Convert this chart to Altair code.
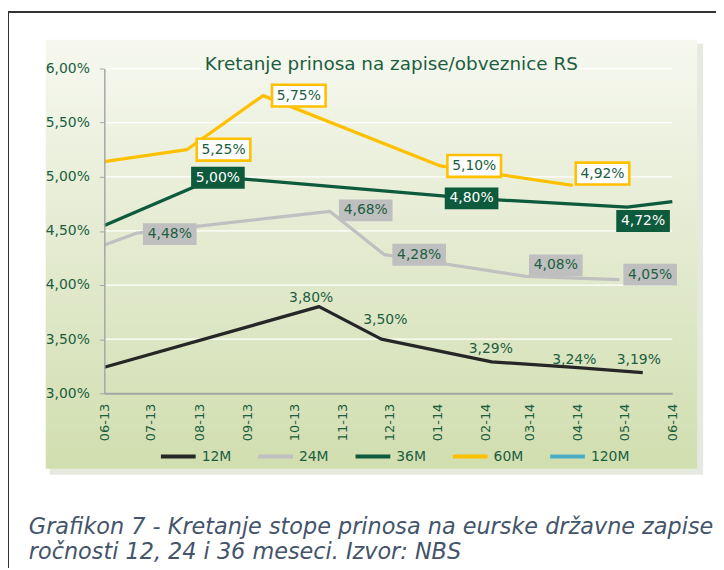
import altair as alt
import pandas as pd

# ---------------- data ----------------
SERIES = ["12M", "24M", "36M", "60M", "120M"]
COLORS = ["#262626", "#c0c0c0", "#0d5b3c", "#ffc000", "#4bacc6"]

DATES_12M = ["2013-06-01", "2013-10-17", "2013-11-26", "2014-02-05", "2014-03-30", "2014-05-13"]
VALUES_12M = [3.24, 3.80, 3.50, 3.29, 3.24, 3.19]

DATES_24M = ["2013-06-01", "2013-06-22", "2013-10-24", "2013-11-28", "2014-02-27", "2014-04-28"]
VALUES_24M = [4.37, 4.48, 4.68, 4.28, 4.08, 4.05]

DATES_36M = ["2013-06-01", "2013-08-13", "2014-01-23", "2014-05-03", "2014-06-01"]
VALUES_36M = [4.55, 5.00, 4.80, 4.72, 4.77]

DATES_60M = ["2013-06-01", "2013-07-24", "2013-09-11", "2014-01-03", "2014-03-29"]
VALUES_60M = [5.14, 5.25, 5.75, 5.10, 4.92]

MONTH_TICKS = [(2013, m) for m in range(6, 13)] + [(2014, m) for m in range(1, 7)]
Y_TICKS = [3.0, 3.5, 4.0, 4.5, 5.0, 5.5, 6.0]

TITLE = "Kretanje prinosa na zapise/obveznice RS"
CAPTION_1 = "Grafikon 7 - Kretanje stope prinosa na eurske državne zapise"
CAPTION_2 = "ročnosti 12, 24 i 36 meseci. Izvor: NBS"

# ------------- label layout (pixel offsets of the label from its point) -------------
OFFS_12M = [None, (-8, -9), (4, -19), (-1, -13), (0, -7), (-4, -13)]
OFFS_24M = [None, (33, 1), (36, -1), (35, 0), (30, -11), (31, -5)]
OFFS_36M = [None, (0, 1), (0, 0), (16, 14), None]
OFFS_60M = [None, (37, 0), (36, 0), (34, 0), (30, -12)]

# ---------------- styles ----------------
FONT = "DejaVu Sans"
GREEN = "#1b5e40"
W, H = 572, 327
BOX_W, BOX_H = 54, 22
BOX_PATH = "M-1,-{h}L1,-{h}L1,{h}L-1,{h}Z".format(h=round(BOX_H / BOX_W, 4))

X_ENC = alt.X(
    "date:T",
    scale=alt.Scale(
        type="utc",
        domain=[alt.DateTime(year=2013, month=6, date=1, utc=True),
                alt.DateTime(year=2014, month=6, date=1, utc=True)],
    ),
    axis=alt.Axis(
        values=[alt.DateTime(year=y, month=m, date=1, utc=True) for y, m in MONTH_TICKS],
        labelExpr="utcFormat(datum.value, '%m-%y')", labelAngle=270, title=None,
        tickSize=0, labelPadding=10, domainWidth=2, domainColor="#a6a6a6",
        grid=False, zindex=1, labelFlush=False, labelOverlap=False,
        labelFont=FONT, labelFontSize=13, labelColor=GREEN,
    ),
)
Y_AXIS = alt.Axis(
    values=Y_TICKS, labelExpr="replace(format(datum.value, '.2f'), '.', ',') + '%'",
    title=None, tickSize=5, tickColor="#a6a6a6", labelPadding=10, domainWidth=1.5,
    domainColor="#a6a6a6", grid=False, zindex=1,
    labelFont=FONT, labelFontSize=14, labelColor=GREEN,
)
Y_SCALE = alt.Scale(domain=[3.0, 6.0], nice=False, zero=False)
Y_ENC = alt.Y("value:Q", scale=Y_SCALE, axis=Y_AXIS)

dummy = alt.Data(values=[{}])

# background panel with shadow
shadow = alt.Chart(dummy).mark_rect(fill="#e6e9df").encode(
    x=alt.value(-55), x2=alt.value(603), y=alt.value(-25), y2=alt.value(409))
panel = alt.Chart(dummy).mark_rect(
    fill=alt.Gradient(
        gradient="linear",
        stops=[alt.GradientStop(color="#f6f8ef", offset=0),
               alt.GradientStop(color="#e3eacf", offset=0.5),
               alt.GradientStop(color="#d1deaf", offset=1)],
        x1=0, x2=0, y1=0, y2=1,
    )
).encode(x=alt.value(-59), x2=alt.value(597), y=alt.value(-29), y2=alt.value(403))

grid = alt.Chart(pd.DataFrame({"value": Y_TICKS[1:]})).mark_rule(
    color="white", strokeWidth=1.3
).encode(y=Y_ENC, x=alt.value(0), x2=alt.value(W))

# lines
rows = []
for name, ds, vs in [("12M", DATES_12M, VALUES_12M), ("24M", DATES_24M, VALUES_24M),
                     ("36M", DATES_36M, VALUES_36M), ("60M", DATES_60M, VALUES_60M)]:
    for d, v in zip(ds, vs):
        rows.append({"series": name, "date": d, "value": v})
line_df = pd.DataFrame(rows)

lines = alt.Chart(line_df).mark_line(strokeWidth=3.3, strokeJoin="round").encode(
    x=X_ENC, y=Y_ENC,
    color=alt.Color(
        "series:N",
        scale=alt.Scale(domain=SERIES, range=COLORS),
        legend=alt.Legend(
            orient="none", legendX=55, legendY=371, direction="horizontal", title=None,
            symbolType="stroke", symbolSize=1225, symbolStrokeWidth=4,
            labelFont=FONT, labelFontSize=14, labelColor=GREEN, labelOffset=4,
            columnPadding=19, padding=0,
        ),
    ),
    detail="series:N",
)

BOXES = {
    "12M": None,
    "24M": dict(fill="#bfbfbf", text=GREEN),
    "36M": dict(fill="#0d5a3c", text="white"),
    "60M": dict(fill="white", stroke="#ffc000", strokeWidth=2.6, text=GREEN),
}


def label_layers(name, dates, values, offsets):
    out = []
    box = BOXES[name]
    for d, v, off in zip(dates, values, offsets):
        if off is None:
            continue
        dx, dy = off
        base = alt.Chart(pd.DataFrame({"date": [d], "value": [v]})).transform_calculate(
            label="replace(format(datum.value, '.2f'), '.', ',') + '%'"
        )
        if box:
            props = dict(fill=box["fill"])
            if "stroke" in box:
                props.update(stroke=box["stroke"], strokeWidth=box["strokeWidth"])
            else:
                props.update(strokeWidth=0)
            out.append(base.mark_point(shape=BOX_PATH, size=BOX_W ** 2, filled=True, opacity=1,
                                       xOffset=dx, yOffset=dy, **props).encode(x=X_ENC, y=Y_ENC))
        color = box["text"] if box else GREEN
        out.append(base.mark_text(dx=dx, dy=dy, font=FONT, fontSize=14, color=color,
                                  align="center", baseline="middle").encode(
            x=X_ENC, y=Y_ENC, text="label:N"))
    return out


labels = (label_layers("12M", DATES_12M, VALUES_12M, OFFS_12M)
          + label_layers("24M", DATES_24M, VALUES_24M, OFFS_24M)
          + label_layers("36M", DATES_36M, VALUES_36M, OFFS_36M)
          + label_layers("60M", DATES_60M, VALUES_60M, OFFS_60M))

title = alt.Chart(dummy).mark_text(text=TITLE, font=FONT, fontSize=18.5, color=GREEN,
                                   align="center", baseline="middle").encode(
    x=alt.value(289), y=alt.value(-5))
cap1 = alt.Chart(dummy).mark_text(text=CAPTION_1, font=FONT, fontSize=22.5, fontStyle="italic",
                                  color="#44546a", align="left", baseline="alphabetic").encode(
    x=alt.value(-76), y=alt.value(469))
cap2 = alt.Chart(dummy).mark_text(text=CAPTION_2, font=FONT, fontSize=22.5, fontStyle="italic",
                                  color="#44546a", align="left", baseline="alphabetic").encode(
    x=alt.value(-76), y=alt.value(494))
frame_top = alt.Chart(dummy).mark_rule(color="#333333", strokeWidth=2).encode(
    x=alt.value(-97), x2=alt.value(620), y=alt.value(-57), y2=alt.value(-57))
frame_left = alt.Chart(dummy).mark_rule(color="#333333", strokeWidth=2).encode(
    x=alt.value(-97), x2=alt.value(-97), y=alt.value(-57), y2=alt.value(520))

chart = alt.layer(
    shadow, panel, grid, lines, *labels, title, cap1, cap2, frame_top, frame_left
).properties(
    width=W, height=H,
    padding={"left": 97, "top": 59, "right": 44, "bottom": 174},
    autosize=alt.AutoSizeParams(type="none"),
).configure_view(stroke=None)

chart.save("out.html", embed_options={"renderer": "svg", "actions": False})
